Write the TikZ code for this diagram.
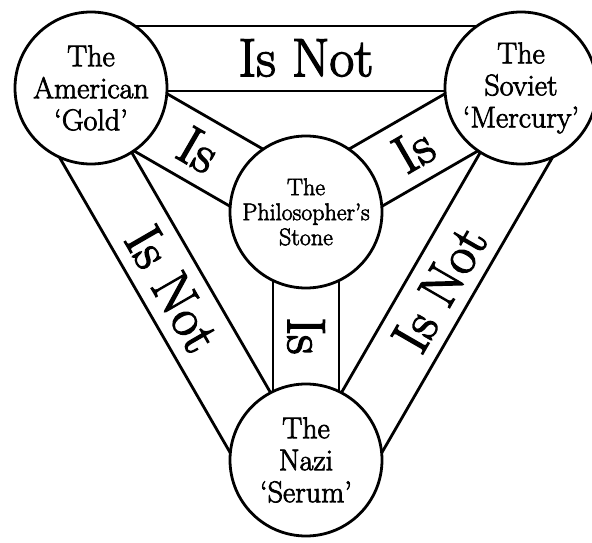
\documentclass[tikz,border=0pt]{standalone}
\usepackage{fontspec}
\setmainfont{Latin Modern Roman}[FakeBold=2.5]
\usepackage{xcolor}
\usepackage{tikz}
\usetikzlibrary{calc, backgrounds}

\begin{document}
\begin{tikzpicture}[x=1pt, y=1pt,
        entity/.style={draw=black, line width=2.8pt, fill=white, circle,
              minimum size=152pt, inner sep=-20pt, align=center,
              font=\fontsize{30}{32}\selectfont},
        band/.style={draw=black, line width=2.8pt},
        bandtext/.style={inner sep=0pt, font=\fontsize{54}{60}\selectfont}]
        \useasboundingbox (0,0) rectangle (592,542);

        \node[entity] (A) at (91,454) {The\\American\\‘Gold’};
        \node[entity] (S) at (521,454) {The\\Soviet\\‘Mercury’};
        \node[entity, font=\fontsize{24}{25}\selectfont] (P) at (306,330) {The\\Philosopher’s\\Stone};
        \node[entity] (N) at (306,82) {The\\Nazi\\‘Serum’};

        \begin{scope}[on background layer]
            \draw[band] ($(A)!-3pt!90:(S)$) -- ($(S)!-3pt!-90:(A)$);
            \draw[band] ($(A)!62pt!90:(S)$) -- ($(S)!62pt!-90:(A)$);
            \draw[band] ($(S)!-3pt!90:(N)$) -- ($(N)!-3pt!-90:(S)$);
            \draw[band] ($(S)!62pt!90:(N)$) -- ($(N)!62pt!-90:(S)$);
            \draw[band] ($(N)!-3pt!90:(A)$) -- ($(A)!-3pt!-90:(N)$);
            \draw[band] ($(N)!62pt!90:(A)$) -- ($(A)!62pt!-90:(N)$);
            \draw[band] ($(P)!33pt!90:(A)$) -- ($(A)!33pt!-90:(P)$);
            \draw[band] ($(P)!33pt!-90:(A)$) -- ($(A)!33pt!90:(P)$);
            \draw[band] ($(P)!33pt!90:(S)$) -- ($(S)!33pt!-90:(P)$);
            \draw[band] ($(P)!33pt!-90:(S)$) -- ($(S)!33pt!90:(P)$);
            \draw[band] ($(P)!33pt!90:(N)$) -- ($(N)!33pt!-90:(P)$);
            \draw[band] ($(P)!33pt!-90:(N)$) -- ($(N)!33pt!90:(P)$);
        \end{scope}

        \coordinate (mAS) at ($(A)!.5!(S)$);
        \coordinate (mSN) at ($(S)!.5!(N)$);
        \coordinate (mNA) at ($(N)!.5!(A)$);
        \node[bandtext] (isnotAS) at ($(mAS)!30pt!90:(S)$) {Is Not};
        \node[bandtext, rotate=60] (isnotSN) at ($(mSN)!30pt!90:(N)$) {Is Not};
        \node[bandtext, rotate=-60] (isnotNA) at ($(mNA)!30pt!90:(A)$) {Is Not};
        \node[bandtext, rotate=-30] (isPA) at ($(P)!.5!(A)$) {Is};
        \node[bandtext, rotate=30] (isPS) at ($(P)!.5!(S)$) {Is};
        \node[bandtext, rotate=-90] (isPN) at ($(P)!.5!(N)$) {Is};
\end{tikzpicture}
\end{document}
